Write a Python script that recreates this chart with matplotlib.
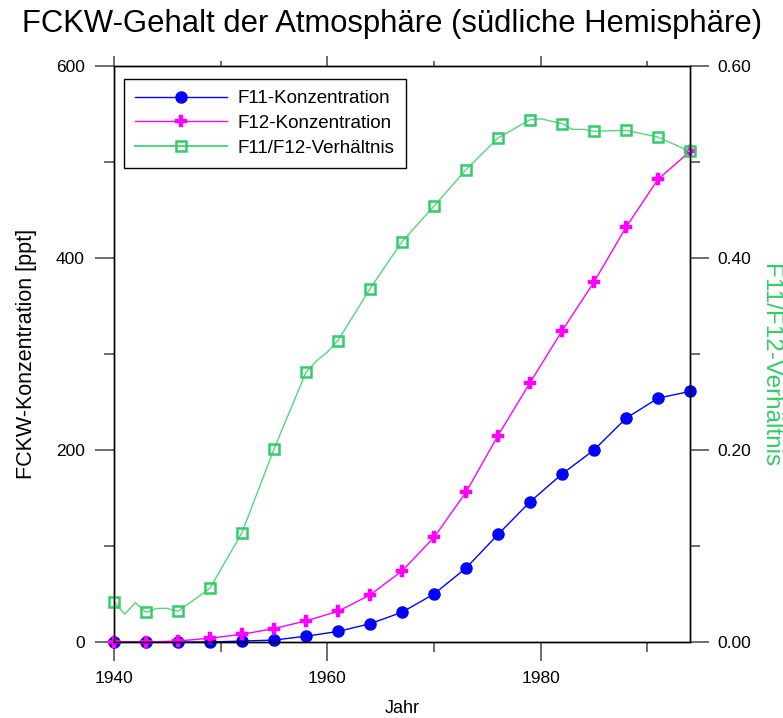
import numpy as np
import matplotlib.pyplot as plt
from matplotlib.ticker import MultipleLocator, FormatStrFormatter

plt.rcParams['font.family'] = ['Liberation Sans', 'DejaVu Sans']

# Marker years (every 3 years)
years = [1940, 1943, 1946, 1949, 1952, 1955, 1958, 1961, 1964, 1967,
         1970, 1973, 1976, 1979, 1982, 1985, 1988, 1991, 1994]
f11 = [0, 0, 0, 0, 1, 2, 6, 11, 19, 31, 50, 77, 112, 146, 175, 200, 233, 254, 261]
f12 = [0, 0, 1, 4, 8, 14, 22, 32, 49, 74, 109, 156, 215, 270, 324, 375, 432, 482, 511]
ratio = [0.042, 0.031, 0.032, 0.056, 0.114, 0.201, 0.281, 0.314, 0.368, 0.417,
         0.454, 0.492, 0.525, 0.544, 0.540, 0.532, 0.533, 0.526, 0.511]

# extra readings of the ratio line between markers (wiggles)
ratio_line_years = [1940, 1941, 1942, 1943, 1944, 1945, 1946, 1949, 1952, 1955,
                    1958, 1959, 1960, 1961, 1964, 1967, 1970, 1973, 1976, 1979,
                    1980, 1982, 1983, 1984, 1985, 1988, 1991, 1994]
ratio_line = [0.042, 0.029, 0.041, 0.031, 0.035, 0.035, 0.032, 0.056, 0.114, 0.201,
              0.281, 0.293, 0.302, 0.314, 0.368, 0.417, 0.454, 0.492, 0.525, 0.544,
              0.545, 0.540, 0.534, 0.534, 0.532, 0.533, 0.526, 0.511]

c_blue = '#0000ff'
c_mag = '#ff00ff'
c_green = '#33cc66'
c_gline = '#55d67f'

fig = plt.figure(figsize=(7.83, 7.18), dpi=100)
ax = fig.add_axes([114/783, 1-642/718, 576/783, 576/718])
ax2 = ax.twinx()

ax.plot(years, f11, color=c_blue, lw=1, marker='o', ms=8, mec=c_blue, mfc=c_blue,
        clip_on=False, label='F11-Konzentration')
ax.plot(years, f12, color=c_mag, lw=1, marker='P', ms=8.5, mec=c_mag, mfc=c_mag,
        mew=0.3, clip_on=False, label='F12-Konzentration')
ax2.plot(ratio_line_years, ratio_line, color=c_gline, lw=1, clip_on=False)
ax2.plot(years, ratio, ls='none', marker='s', ms=7, mfc='none', mec=c_green, mew=1.8,
         clip_on=False)

# legend entry for ratio
ax.plot([], [], color=c_gline, lw=1.5, marker='s', ms=7, mfc='none', mec=c_green,
        mew=1.8, label='F11/F12-Verhältnis')

ax.set_xlim(1940, 1994)
ax.set_ylim(0, 600)
ax2.set_ylim(0, 0.6)

ax.xaxis.set_major_locator(MultipleLocator(20))
ax.xaxis.set_minor_locator(MultipleLocator(10))
ax.yaxis.set_major_locator(MultipleLocator(200))
ax.yaxis.set_minor_locator(MultipleLocator(100))
ax2.yaxis.set_major_locator(MultipleLocator(0.2))
ax2.yaxis.set_minor_locator(MultipleLocator(0.1))
ax2.yaxis.set_major_formatter(FormatStrFormatter('%.2f'))

tc = '#555555'
ax.tick_params(axis='both', which='major', direction='out', length=14, width=1.2,
               color=tc, labelsize=12.5, pad=7)
ax.tick_params(axis='both', which='minor', direction='out', length=7, width=1.2, color=tc)
ax.tick_params(axis='x', which='major', top=True, labeltop=False)
ax.tick_params(axis='x', which='minor', top=True)
ax2.tick_params(axis='y', which='major', direction='out', length=14, width=1.2,
                color=tc, labelsize=12.5, pad=6)
ax2.tick_params(axis='y', which='minor', direction='out', length=7, width=1.2, color=tc)
for t in ax.xaxis.get_major_ticks():
    t.tick2line.set_markersize(7)
for t in ax.xaxis.get_minor_ticks():
    t.tick2line.set_markersize(3.5)

for sp in ax.spines.values():
    sp.set_linewidth(1)
for sp in ax2.spines.values():
    sp.set_linewidth(1)

ax.set_xlabel('Jahr', fontsize=13, labelpad=10)
ax.set_ylabel('FCKW-Konzentration [ppt]', fontsize=15.5, labelpad=14)
fig.text(770/783, 1-366/718, 'F11/F12-Verhältnis', fontsize=17.5, color=c_green,
         rotation=270, ha='center', va='center')

fig.text(0.5, 1-24/718, 'FCKW-Gehalt der Atmosphäre (südliche Hemisphäre)',
         ha='center', va='center', fontsize=22.3)

leg = ax.legend(loc='upper left', bbox_to_anchor=(124/783, 1-79/718),
                bbox_transform=fig.transFigure, borderaxespad=0, fancybox=False,
                edgecolor='black', framealpha=1, fontsize=13.5, handlelength=4.9,
                handletextpad=0.55, labelspacing=0.4, borderpad=0.6)
leg.get_frame().set_linewidth(1)

fig.savefig('out.png', dpi=100)
